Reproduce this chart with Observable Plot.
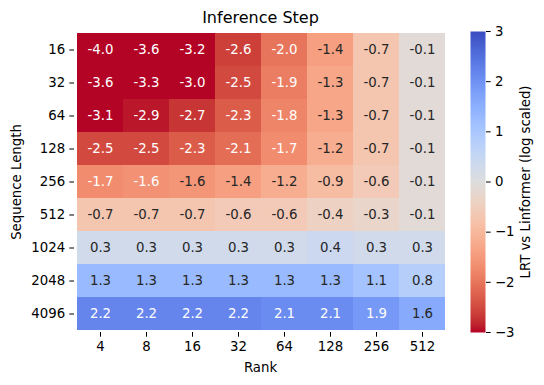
<!DOCTYPE html>
<html>
<head>
<meta charset="utf-8">
<script src="https://cdn.jsdelivr.net/npm/d3@7"></script>
<script src="https://cdn.jsdelivr.net/npm/@observablehq/plot@0.6"></script>
<style>
  body { margin: 0; background: #fff; }
  #wrap { position: relative; width: 544px; height: 385px; font-family: "DejaVu Sans", sans-serif; color: #000; }
  .lbl { position: absolute; white-space: nowrap; line-height: 1; transform: translate(-50%, -50%); font-size: 13.3px; }
  svg { position: absolute; top: 0; }
</style>
</head>
<body>
<div id="wrap">
  <div class="lbl" style="left:260.5px; top:18px; font-size:16px;">Inference Step</div>
  <div class="lbl" style="left:260.5px; top:368px;">Rank</div>
  <div class="lbl" style="left:16.5px; top:181.5px; transform: translate(-50%,-50%) rotate(-90deg);">Sequence Length</div>
  <div class="lbl" style="left:526px; top:181.5px; transform: translate(-50%,-50%) rotate(-90deg);">LRT vs Linformer (log scaled)</div>
</div>
<script>
const ranks = ["4", "8", "16", "32", "64", "128", "256", "512"];
const seqLengths = ["16", "32", "64", "128", "256", "512", "1024", "2048", "4096"];
const values = [
  [-4.0, -3.6, -3.2, -2.6, -2.0, -1.4, -0.7, -0.1],
  [-3.6, -3.3, -3.0, -2.5, -1.9, -1.3, -0.7, -0.1],
  [-3.1, -2.9, -2.7, -2.3, -1.8, -1.3, -0.7, -0.1],
  [-2.5, -2.5, -2.3, -2.1, -1.7, -1.2, -0.7, -0.1],
  [-1.7, -1.63, -1.57, -1.4, -1.2, -0.9, -0.6, -0.1],
  [-0.7, -0.7, -0.7, -0.6, -0.6, -0.4, -0.3, -0.1],
  [0.3, 0.3, 0.3, 0.3, 0.3, 0.4, 0.3, 0.3],
  [1.3, 1.3, 1.3, 1.3, 1.3, 1.3, 1.1, 0.8],
  [2.2, 2.2, 2.2, 2.2, 2.1, 2.1, 1.9, 1.6]
];
const colorTicks = [-3, -2, -1, 0, 1, 2, 3];
// coolwarm colormap stops (blue -> red)
const coolwarm = [
  "rgb(59,76,192)","rgb(68,90,204)","rgb(77,104,215)","rgb(87,117,225)","rgb(98,130,234)",
  "rgb(108,142,241)","rgb(119,154,247)","rgb(130,165,251)","rgb(141,176,254)","rgb(152,185,255)",
  "rgb(163,194,255)","rgb(174,201,253)","rgb(184,208,249)","rgb(194,213,244)","rgb(204,217,238)",
  "rgb(213,219,230)","rgb(221,221,221)","rgb(229,216,209)","rgb(236,211,197)","rgb(241,204,185)",
  "rgb(245,196,173)","rgb(247,187,160)","rgb(247,177,148)","rgb(247,166,135)","rgb(244,154,123)",
  "rgb(241,141,111)","rgb(236,127,99)","rgb(229,112,88)","rgb(222,96,77)","rgb(213,80,66)",
  "rgb(203,62,56)","rgb(192,40,47)","rgb(180,4,38)"
];
const interp = d3.piecewise(d3.interpolateRgb, coolwarm);
const vmin = -3, vmax = 3;
const cmapR = t => interp(1 - Math.max(0, Math.min(1, t)));
const colorOf = v => cmapR((v - vmin) / (vmax - vmin));
function lum(c) {
  const r = d3.rgb(c);
  const f = x => { x /= 255; return x <= 0.03928 ? x / 12.92 : Math.pow((x + 0.055) / 1.055, 2.4); };
  return 0.2126 * f(r.r) + 0.7152 * f(r.g) + 0.0722 * f(r.b);
}

const data = [];
seqLengths.forEach((s, i) => ranks.forEach((r, j) => data.push({seq: s, rank: r, v: values[i][j]})));
const darkText = d => lum(colorOf(d.v)) > 0.408;

const colorScale = {type: "linear", domain: [vmin, vmax], interpolate: cmapR, clamp: true};
const fontStyle = {fontFamily: "DejaVu Sans, sans-serif", fontSize: "13.3px", background: "transparent", overflow: "visible"};
const FS = 13.3;
const fmtTick = d => (d < 0 ? "\u2212" + Math.abs(d) : String(d));

const main = Plot.plot({
  width: 460, height: 385,
  marginTop: 31, marginBottom: 53, marginLeft: 74, marginRight: 13,
  style: fontStyle,
  x: {domain: ranks, padding: 0, label: null},
  y: {domain: seqLengths, padding: 0, label: null},
  color: colorScale,
  marks: [
    Plot.cell(data, {x: "rank", y: "seq", fill: "v", inset: 0, shapeRendering: "crispEdges"}),
    Plot.text(data.filter(d => !darkText(d)), {x: "rank", y: "seq", text: d => d.v.toFixed(1), fill: "white", fontSize: FS}),
    Plot.text(data.filter(darkText), {x: "rank", y: "seq", text: d => d.v.toFixed(1), fill: "#262626", fontSize: FS}),
    Plot.axisX({tickSize: 4.7, tickPadding: 4.7, label: null, fontSize: FS, fill: "#000"}),
    Plot.axisY({tickSize: 4.7, tickPadding: 4.7, label: null, fontSize: FS, fill: "#000"})
  ]
});
main.style.left = "0px";

const bar = Plot.plot({
  width: 84, height: 385,
  marginTop: 31, marginBottom: 53, marginLeft: 10, marginRight: 59,
  style: fontStyle,
  x: {domain: [0, 1], axis: null},
  y: {domain: [vmin, vmax], label: null},
  color: colorScale,
  marks: [
    Plot.raster({x1: 0, x2: 1, y1: vmin, y2: vmax, width: 1, height: 301, fill: (x, y) => y, imageRendering: "auto"}),
    Plot.axisY({anchor: "right", ticks: colorTicks, tickFormat: fmtTick, tickSize: 4.7, tickPadding: 4.7, label: null, fontSize: FS, fill: "#000"})
  ]
});
bar.style.left = "460px";

const wrap = document.getElementById("wrap");
wrap.appendChild(main);
wrap.appendChild(bar);
</script>
</body>
</html>
